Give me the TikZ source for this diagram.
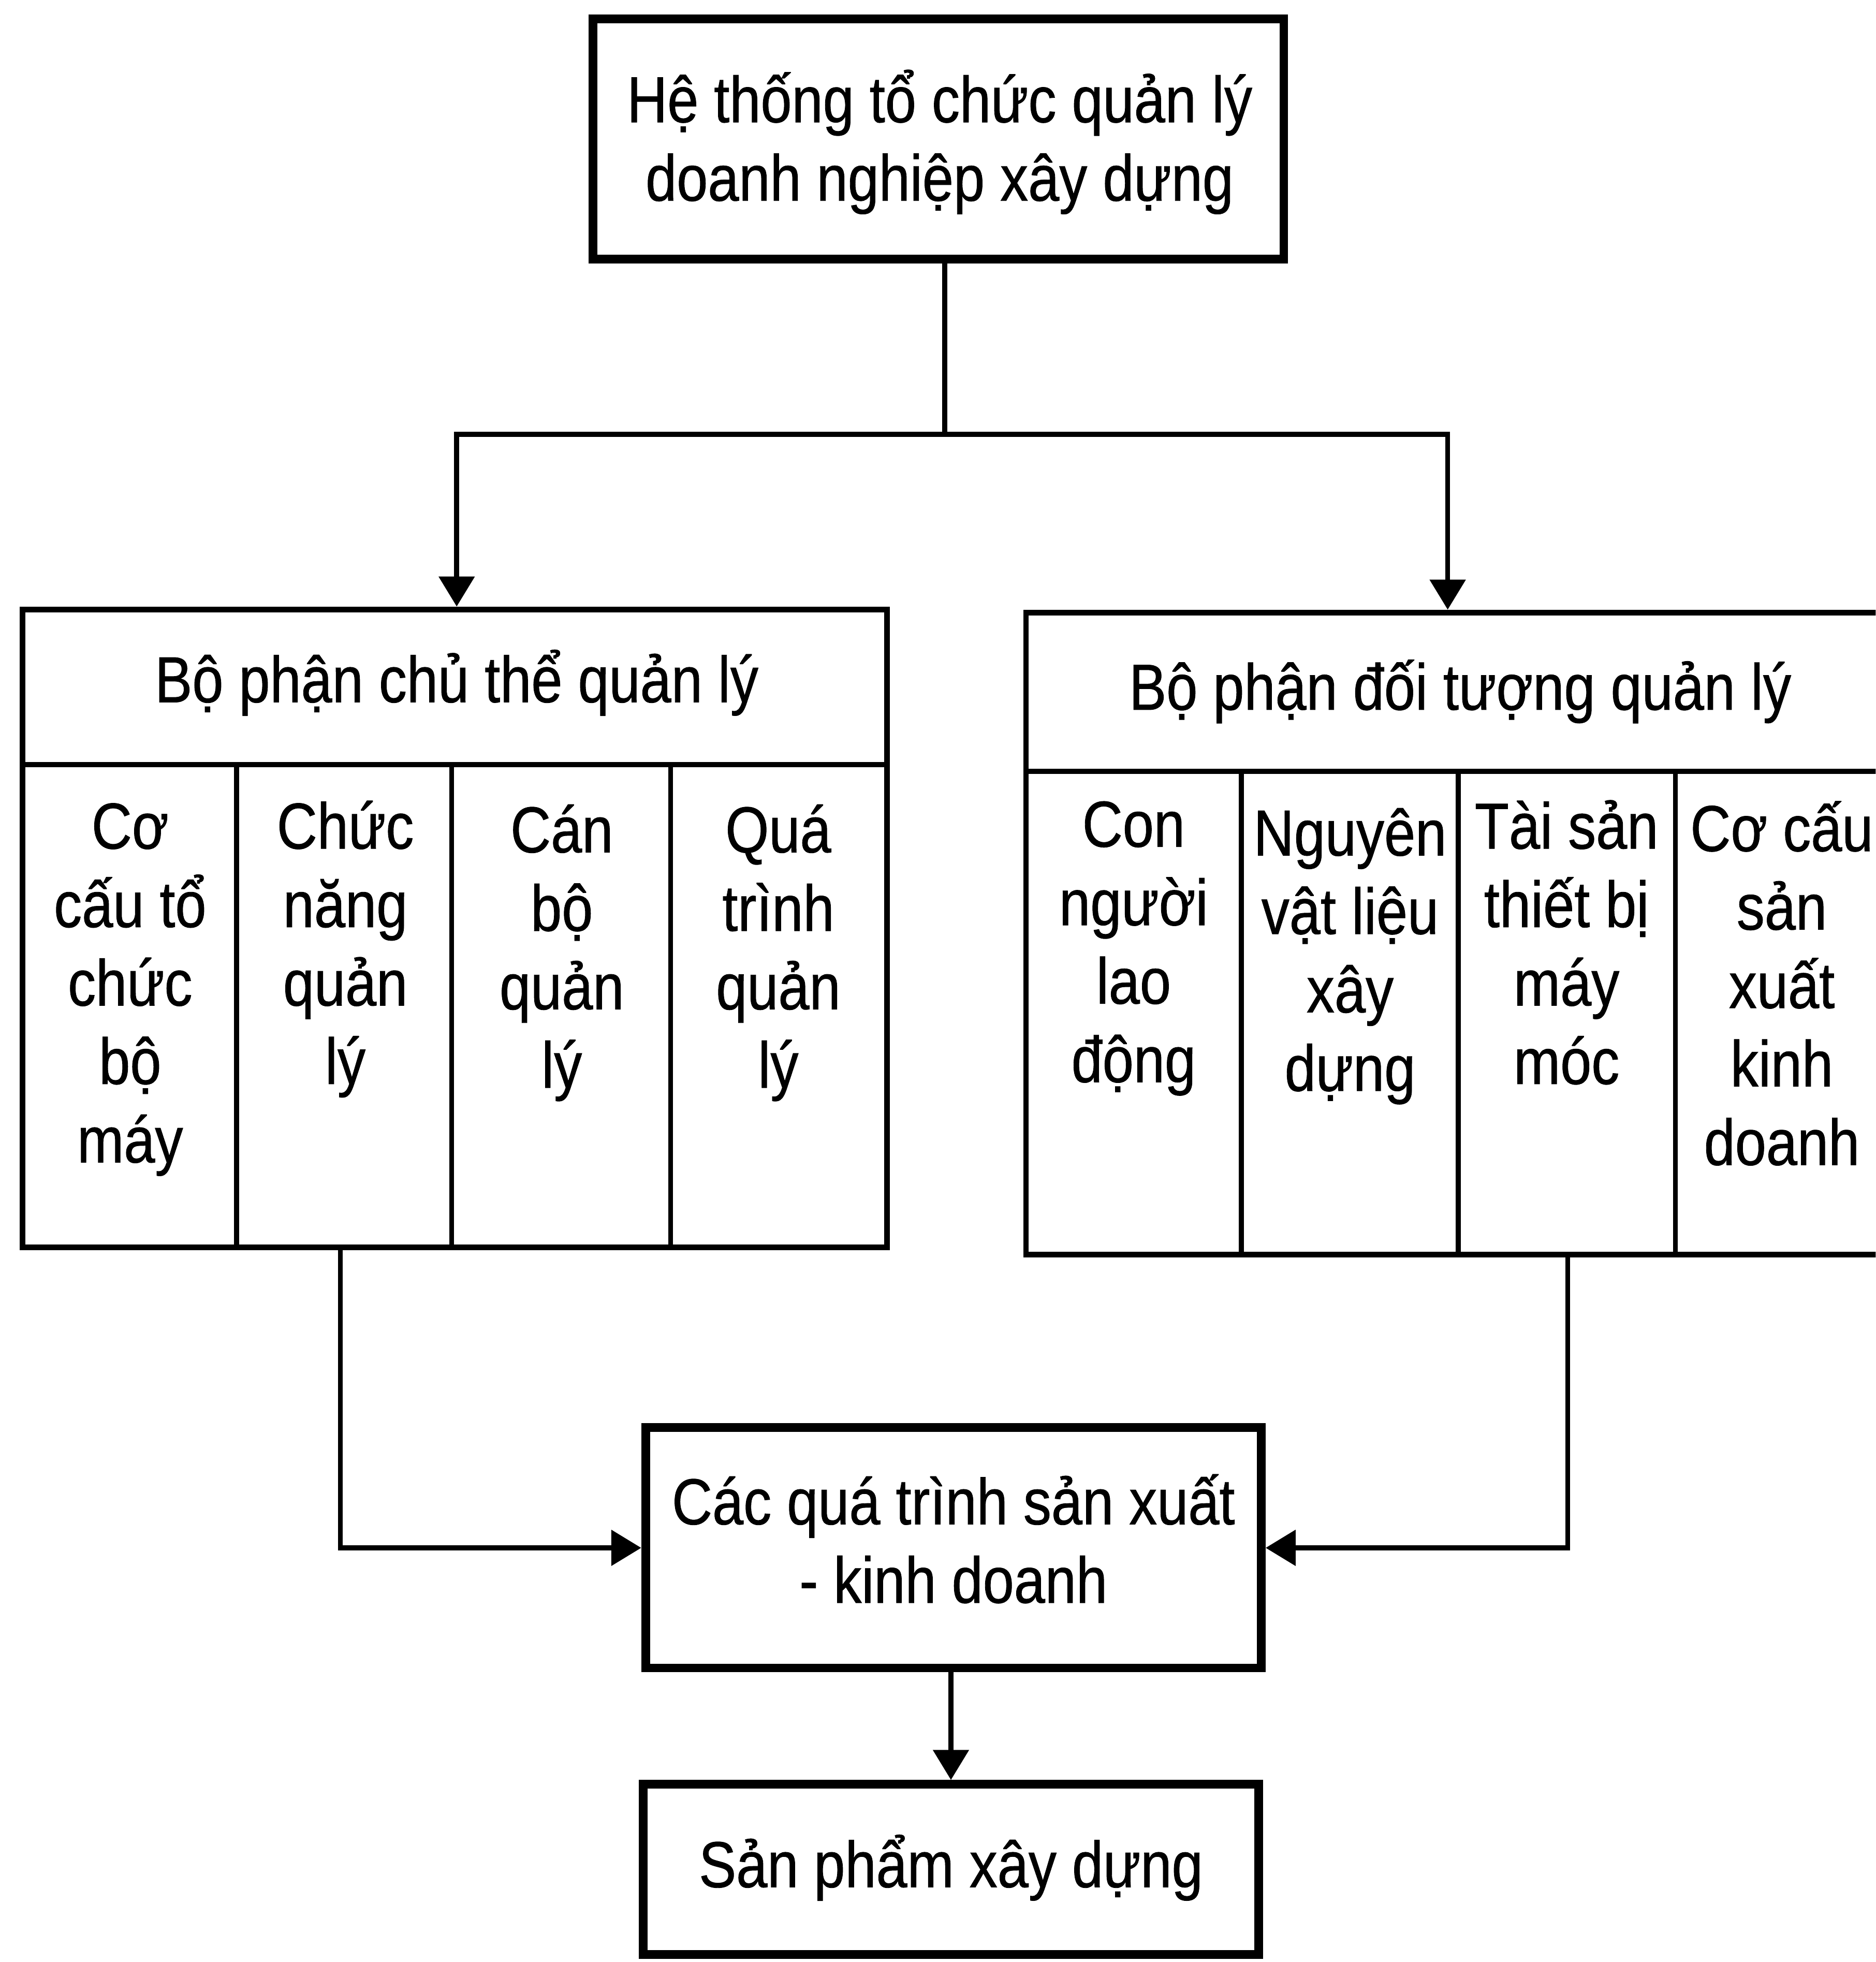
\documentclass[tikz,border=0pt]{standalone}
\usepackage{fontspec}
\setmainfont{Liberation Sans}[FakeStretch=0.86,FakeBold=0.7]
\usetikzlibrary{arrows.meta}
\newcommand\fstr{\rule{0pt}{54pt}}
\tikzset{
  mainbox/.style={draw, line width=7pt, inner sep=0pt},
  grpbox/.style={draw, line width=4.5pt, inner sep=0pt},
  divline/.style={line width=4pt},
  conn/.style={line width=4pt},
  arr/.style={-{Triangle[length=24pt,width=28pt]}},
  txt/.style={anchor=north, inner sep=0pt, align=center,
    font=\fontsize{52pt}{62.7pt}\selectfont},
}
\begin{document}
\setlength{\lineskiplimit}{-1000pt}
\begin{tikzpicture}[x=1pt,y=-1pt]
\useasboundingbox (0,0) rectangle (1499,1568);
\fill[white] (0,0) rectangle (1499,1568);
\clip (0,0) rectangle (1499,1568);

% boxes
\node[mainbox, minimum width=552pt, minimum height=192pt] (top) at (750,111) {};
\node[grpbox, minimum width=691pt, minimum height=510pt] (lgrp) at (363.5,742) {};
\node[grpbox, minimum width=690pt, minimum height=513pt] (rgrp) at (1165,746) {};
\node[mainbox, minimum width=492pt, minimum height=192pt] (mid) at (762,1237) {};
\node[mainbox, minimum width=492pt, minimum height=136pt] (bot) at (760,1494) {};

% table dividers
\draw[divline] (18,611) -- (709,611);
\draw[divline] (189,611) -- (189,997);
\draw[divline] (361,611) -- (361,997);
\draw[divline] (536,611) -- (536,997);
\draw[divline] (820,616.5) -- (1510,616.5);
\draw[divline] (992,616.5) -- (992,1002.5);
\draw[divline] (1165.5,616.5) -- (1165.5,1002.5);
\draw[divline] (1339,616.5) -- (1339,1002.5);

% texts
\node[txt] (ttop) at (751,43.5) {\fstr Hệ thống tổ chức quản lý\\doanh nghiệp xây dựng};
\node[txt] (lhead) at (365,507) {\fstr Bộ phận chủ thể quản lý};
\node[txt] (rhead) at (1167,513) {\fstr Bộ phận đối tượng quản lý};
\node[txt] (lc1) at (104,624) {\fstr Cơ\\cấu tổ\\chức\\bộ\\máy};
\node[txt] (lc2) at (276,624) {\fstr Chức\\năng\\quản\\lý};
\node[txt] (lc3) at (449,627) {\fstr Cán\\bộ\\quản\\lý};
\node[txt] (lc4) at (622,627) {\fstr Quá\\trình\\quản\\lý};
\node[txt] (rc1) at (906,622.5) {\fstr Con\\người\\lao\\động};
\node[txt] (rc2) at (1079,629.5) {\fstr Nguyên\\vật liệu\\xây\\dựng};
\node[txt] (rc3) at (1252,624) {\fstr Tài sản\\thiết bị\\máy\\móc};
\node[txt] (rc4) at (1424,626) {\fstr Cơ cấu\\sản\\xuất\\kinh\\doanh};
\node[txt] (mtext) at (762,1164) {\fstr Các quá trình sản xuất\\- kinh doanh};
\node[txt] (btext) at (760,1454) {\fstr Sản phẩm xây dựng};

% connectors
\coordinate (j) at (755,347);
\draw[conn] ([xshift=5pt]top.south) -- (j);
\draw[conn,arr] (j) -| ([xshift=1.5pt]lgrp.north);
\draw[conn,arr] (j) -| ([xshift=-8pt]rgrp.north);
\draw[conn,arr] ([xshift=-91.5pt]lgrp.south) |- (mid.west);
\draw[conn,arr] ([xshift=88pt]rgrp.south) |- (mid.east);
\draw[conn,arr] ([xshift=-2pt]mid.south) -- (bot.north);
\end{tikzpicture}
\end{document}
